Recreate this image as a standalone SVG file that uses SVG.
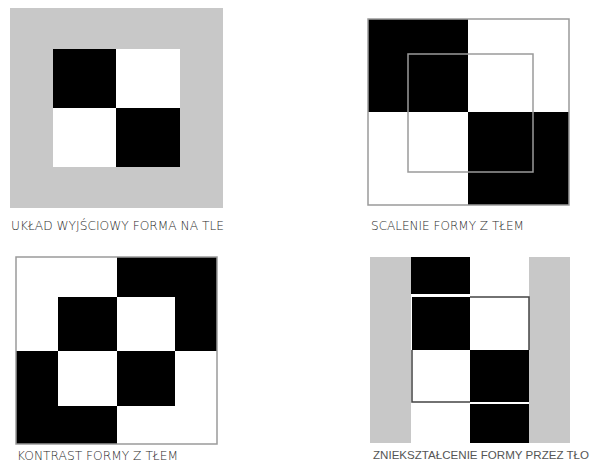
<svg xmlns="http://www.w3.org/2000/svg" width="597" height="467" viewBox="0 0 597 467">
<style>
.b{fill:#000}
.w{fill:#fff}
.g{fill:#c8c8c8}
.ol{fill:none;stroke:#9a9a9a;stroke-width:1.5}
.ln{fill:none;stroke:#444;stroke-width:1.5}
.lb{font-family:"DejaVu Sans","Liberation Sans",sans-serif;font-size:12px;fill:#2a2a2a;font-weight:300}
.ls{font-family:"Liberation Sans",sans-serif;font-size:11.5px;fill:#555}
</style>
<rect width="597" height="467" fill="#fff"/>
<g id="panel1">
<rect class="g" x="10" y="8" width="213" height="200"/>
<rect class="b" x="53" y="49" width="63" height="59"/>
<rect class="w" x="116" y="49" width="64" height="59"/>
<rect class="w" x="53" y="108" width="63" height="59"/>
<rect class="b" x="116" y="108" width="64" height="59"/>
<text class="lb" x="11" y="230" textLength="213" lengthAdjust="spacingAndGlyphs">UKŁAD WYJŚCIOWY FORMA NA TLE</text>
</g>
<g id="panel2">
<rect class="b" x="368" y="19" width="100" height="93"/>
<rect class="w" x="468" y="19" width="101" height="93"/>
<rect class="w" x="368" y="112" width="100" height="93"/>
<rect class="b" x="468" y="112" width="101" height="93"/>
<rect class="ol" x="368" y="19" width="201" height="186"/>
<rect class="ol" x="408" y="54" width="125" height="118"/>
<text class="lb" x="371" y="230" textLength="153" lengthAdjust="spacingAndGlyphs">SCALENIE FORMY Z TŁEM</text>
</g>
<g id="panel3">
<rect class="w" x="16" y="257" width="101" height="94"/>
<rect class="b" x="117" y="257" width="100" height="94"/>
<rect class="b" x="16" y="351" width="101" height="93"/>
<rect class="w" x="117" y="351" width="100" height="93"/>
<rect class="b" x="58" y="297" width="59" height="54"/>
<rect class="w" x="117" y="297" width="58" height="54"/>
<rect class="w" x="58" y="351" width="59" height="55"/>
<rect class="b" x="117" y="351" width="58" height="55"/>
<rect class="ol" x="16" y="257" width="201" height="187" stroke="#777"/>
<text class="lb" x="17" y="460" textLength="161" lengthAdjust="spacingAndGlyphs">KONTRAST FORMY Z TŁEM</text>
</g>
<g id="panel4">
<rect class="g" x="370" y="257" width="41" height="186"/>
<rect class="g" x="529" y="257" width="41" height="186"/>
<rect class="b" x="411" y="257" width="59" height="37"/>
<rect class="b" x="412" y="297" width="58" height="53"/>
<rect class="b" x="470" y="350" width="59" height="52"/>
<rect class="b" x="470" y="404" width="59" height="39"/>
<path class="ln" d="M470 297H529V350"/>
<path class="ln" d="M412 350V402H470"/>
<text class="ls" x="373" y="459" textLength="216" lengthAdjust="spacingAndGlyphs">ZNIEKSZTAŁCENIE FORMY PRZEZ TŁO</text>
</g>
</svg>
